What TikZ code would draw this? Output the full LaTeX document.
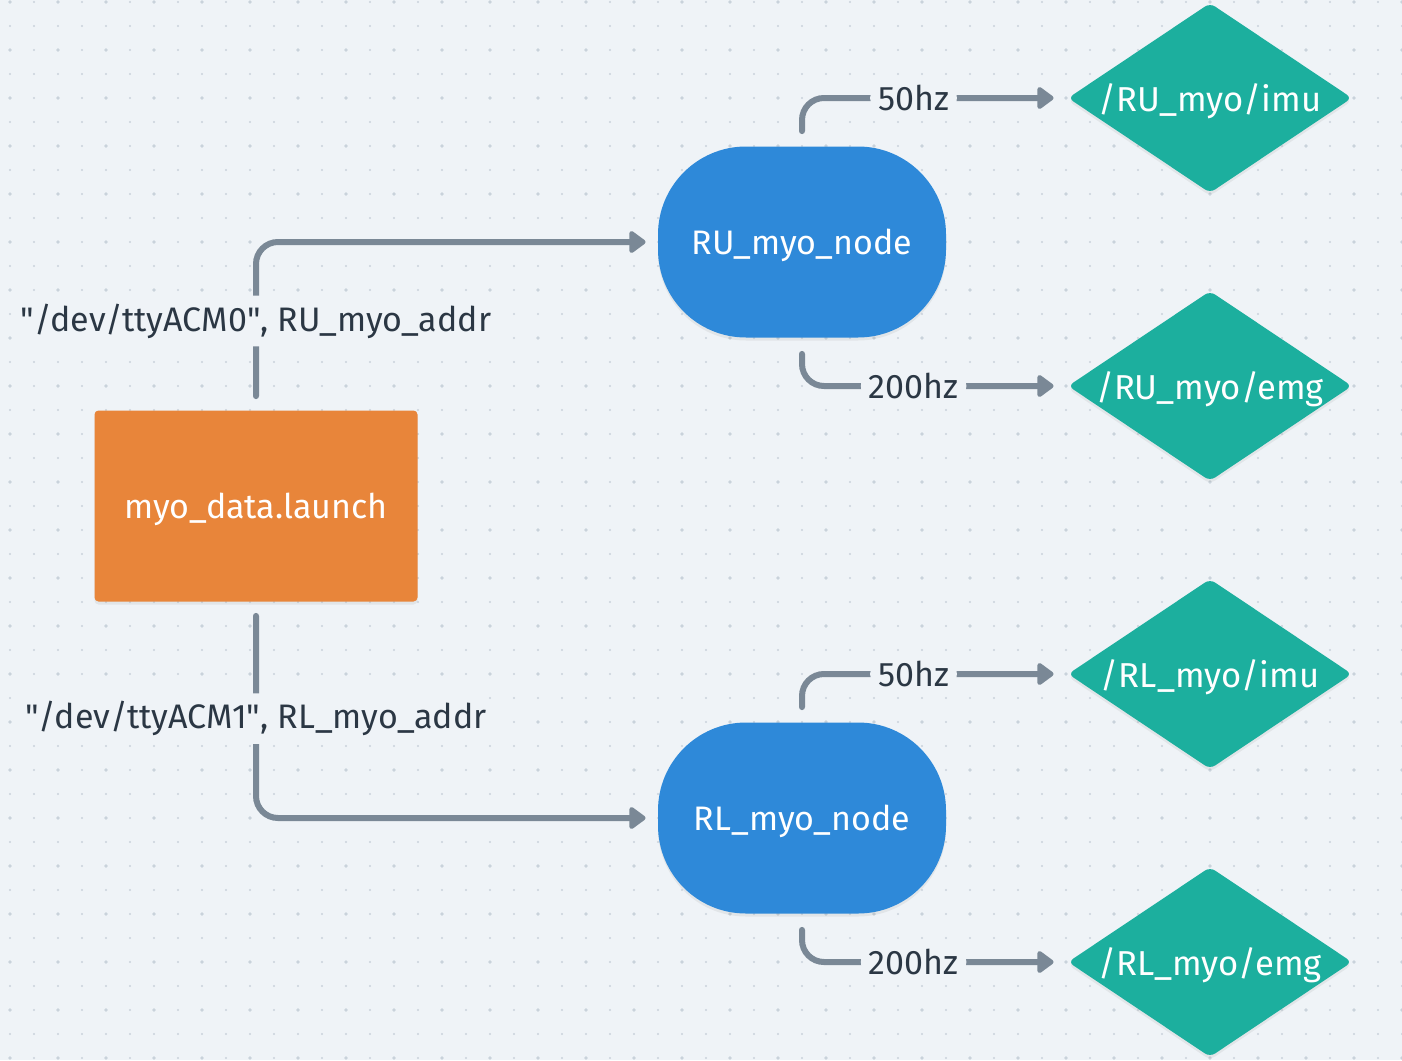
\documentclass[tikz,border=0pt]{standalone}
\usepackage{fontspec}
\setmainfont{Fira Sans}
\usetikzlibrary{arrows.meta, shapes.geometric, shadows}

\definecolor{canvas}{HTML}{EFF3F7}
\definecolor{gridDot}{HTML}{C9D2DB}
\definecolor{launchOrange}{HTML}{E8853A}
\definecolor{nodeBlue}{HTML}{2E89D9}
\definecolor{topicTeal}{HTML}{1CAF9E}
\definecolor{linkGrey}{HTML}{7A8896}
\definecolor{labelInk}{HTML}{2B3744}

\tikzset{
  soft shadow/.style = {drop shadow={shadow xshift=0pt, shadow yshift=-1.5pt, opacity=.12}},
  launchbox/.style = {rectangle, rounded corners=2pt, fill=launchOrange, text=white, text depth=0pt,
    minimum width=161.5pt, minimum height=95.5pt, font=\fontsize{17}{20}\selectfont, soft shadow},
  rosnode/.style = {rectangle, rounded corners=44pt, fill=nodeBlue, text=white, text depth=0pt,
    minimum width=144pt, minimum height=95.5pt, font=\fontsize{17}{20}\selectfont, soft shadow},
  topic/.style = {diamond, aspect=1.5, rounded corners=3pt, fill=topicTeal, text=white, inner sep=0pt,
    text depth=0pt, minimum width=142pt, minimum height=95pt, font=\fontsize{17.3}{20}\selectfont, soft shadow},
  link/.style = {draw=linkGrey, line width=3pt, line cap=round, rounded corners=11pt,
    -{Triangle[length=9pt, width=12.5pt, round]}},
  lbl/.style = {fill=canvas, text=labelInk, inner xsep=4pt, inner ysep=4pt,
    font=\fontsize{17}{20}\selectfont}
}

\begin{document}
\begin{tikzpicture}[x=0.5pt, y=-0.5pt]
   \useasboundingbox (0,0) rectangle (1402,1060);
   \fill[canvas] (0,0) rectangle (1402,1060);
   % dotted canvas
   \foreach \i in {0,...,58}
     \foreach \j in {0,...,44}
       \fill[gridDot] (10+24*\i, 2+24*\j) circle[radius=0.6pt];
   \foreach \i in {0,...,29}
     \foreach \j in {0,...,22}
       \fill[gridDot] (10+48*\i, 2+48*\j) circle[radius=0.9pt];

   \node[launchbox] (launch) at (256,506) {myo\_data.launch};
   \node[rosnode]   (ru)     at (802,242) {RU\_myo\_node};
   \node[rosnode]   (rl)     at (802,818) {RL\_myo\_node};

   \node[topic] (ruImu) at (1210,98)  {/RU\_myo/imu};
   \node[topic] (ruEmg) at (1210,386) {/RU\_myo/emg};
   \node[topic] (rlImu) at (1210,674) {/RL\_myo/imu};
   \node[topic] (rlEmg) at (1210,962) {/RL\_myo/emg};

   \draw[link, shorten <=7pt, shorten >=6pt] (launch.north) |- node[lbl, pos=.265] {\textquotedbl/dev/ttyACM0\textquotedbl, RU\_myo\_addr} (ru.west);
   \draw[link, shorten <=7pt, shorten >=6pt] (launch.south) |- node[lbl, pos=.27] {\textquotedbl/dev/ttyACM1\textquotedbl, RL\_myo\_addr} (rl.west);

   \draw[link, shorten <=7.5pt, shorten >=7pt] (ru.north) |- node[lbl, pos=.71] {50hz} (ruImu.west);
   \draw[link, shorten <=8pt, shorten >=7pt] (ru.south) |- node[lbl, pos=.71] {200hz} (ruEmg.west);
   \draw[link, shorten <=7.5pt, shorten >=7pt] (rl.north) |- node[lbl, pos=.71] {50hz} (rlImu.west);
   \draw[link, shorten <=8pt, shorten >=7pt] (rl.south) |- node[lbl, pos=.71] {200hz} (rlEmg.west);
\end{tikzpicture}
\end{document}
